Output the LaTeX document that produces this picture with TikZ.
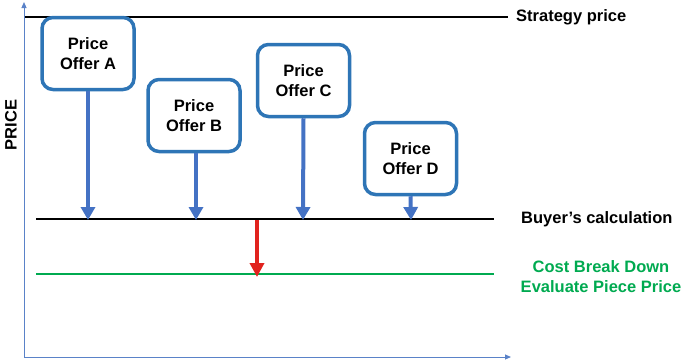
\documentclass[tikz,border=0pt]{standalone}
\usepackage{fontspec}
\setmainfont{Liberation Sans}
\usetikzlibrary{arrows.meta}
\definecolor{boxblue}{RGB}{46,117,182}
\definecolor{arrblue}{RGB}{68,114,196}
\definecolor{axblue}{RGB}{90,130,200}
\definecolor{cgreen}{RGB}{0,170,80}
\definecolor{cred}{RGB}{225,35,30}
\tikzset{
  offer/.style={draw=boxblue, line width=3.5pt, rounded corners=11pt, minimum width=92pt, minimum height=72pt, align=center, font=\fontsize{16.5}{20}\selectfont\bfseries, inner sep=0pt},
  offerarrow/.style={draw=arrblue, line width=4pt, -{Triangle[width=14pt,length=13pt]}, shorten >=-1pt},
  level/.style={line width=1.2pt},
  lbl/.style={font=\fontsize{16.5}{20}\selectfont\bfseries, anchor=west, align=center, inner sep=0pt},
  axis/.style={draw=axblue, line width=1pt, -{Triangle[width=5pt,length=6pt]}}
}
\begin{document}
\begin{tikzpicture}[x=1pt,y=-1pt]
\useasboundingbox (0,0) rectangle (685,362);
% axes
\coordinate (o) at (24,357);
\coordinate (ytop) at (24,2);
\coordinate (xend) at (511,357);
\draw[axis] (o) -- (ytop);
\draw[axis] (o) -- (xend);
\node[rotate=90, font=\fontsize{16.5}{20}\selectfont\bfseries] (ylab) at (11,125) {PRICE};
% levels
\coordinate (s1) at (25,17); \coordinate (s2) at (508,17);
\draw[level] (s1) -- (s2);
\node[lbl] (strat) at (516,17) {Strategy price};
\coordinate (b1) at (36,219); \coordinate (b2) at (494,219);
\draw[level] (b1) -- (b2);
\node[lbl] (buyer) at (521,219) {Buyer’s calculation};
\coordinate (g1) at (36,274); \coordinate (g2) at (494,274);
\draw[level, draw=cgreen] (g1) -- (g2);
\node[lbl, text=cgreen, anchor=center] (cost) at (601,277) {Cost Break Down\\Evaluate Piece Price};
% boxes
\node[offer, fill=white] (A) at (88,53.5) {Price\\Offer A};
\node[offer, fill=white] (B) at (194,115.5) {Price\\Offer B};
\node[offer, fill=white] (C) at (303.5,80.5) {Price\\Offer C};
\node[offer, fill=white] (D) at (410.5,158.5) {Price\\Offer D};
% arrow targets
\coordinate (ta) at (88,219);
\coordinate (tb) at (196,219);
\coordinate (tc) at (303,219);
\coordinate (td) at (411,219);
\draw[offerarrow] (A.south) -- (ta);
\draw[offerarrow] ([xshift=2pt]B.south) -- (tb);
\draw[offerarrow] (C.south) -- (tc);
\draw[offerarrow] (D.south) -- (td);
\coordinate (r1) at (257,220);
\coordinate (r2) at (257,277);
\draw[draw=cred, line width=4pt, -{Triangle[width=14pt,length=14pt]}] (r1) -- (r2);
\end{tikzpicture}
\end{document}
